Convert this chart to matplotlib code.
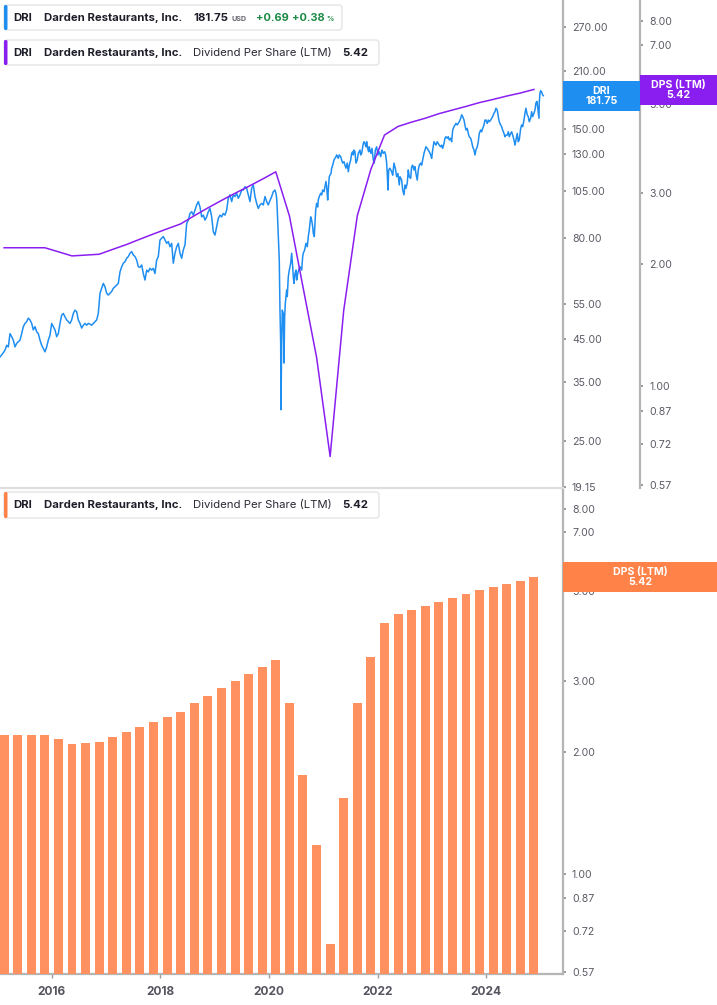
import numpy as np
import matplotlib
matplotlib.use("Agg")
import matplotlib.pyplot as plt
from matplotlib.patches import FancyBboxPatch, Rectangle
from matplotlib.ticker import FixedLocator, NullLocator, FixedFormatter
from matplotlib.transforms import IdentityTransform

plt.rcParams['font.family'] = ['Inter', 'DejaVu Sans']

# ---------------- data ----------------
price_years = [
    2015.050, 2015.100, 2015.142, 2015.173, 2015.203, 2015.234, 2015.265, 2015.295, 2015.326, 2015.357,
    2015.387, 2015.418, 2015.449, 2015.479, 2015.510, 2015.541, 2015.571, 2015.602, 2015.633, 2015.663,
    2015.694, 2015.725, 2015.755, 2015.786, 2015.817, 2015.847, 2015.878, 2015.909, 2015.939, 2015.970,
    2016.001, 2016.031, 2016.062, 2016.093, 2016.123, 2016.154, 2016.185, 2016.215, 2016.246, 2016.277,
    2016.307, 2016.338, 2016.369, 2016.399, 2016.430, 2016.461, 2016.491, 2016.522, 2016.553, 2016.583,
    2016.614, 2016.645, 2016.675, 2016.706, 2016.737, 2016.767, 2016.798, 2016.829, 2016.859, 2016.890,
    2016.921, 2016.951, 2016.982, 2017.013, 2017.043, 2017.074, 2017.105, 2017.135, 2017.166, 2017.197,
    2017.227, 2017.258, 2017.289, 2017.319, 2017.350, 2017.381, 2017.411, 2017.442, 2017.473, 2017.503,
    2017.534, 2017.565, 2017.595, 2017.626,
    2017.657, 2017.687, 2017.718, 2017.749, 2017.779, 2017.810, 2017.841, 2017.871, 2017.902, 2017.933,
    2017.963, 2017.994, 2018.025, 2018.055, 2018.086, 2018.117, 2018.147, 2018.178, 2018.209, 2018.239,
    2018.270, 2018.301, 2018.331, 2018.362, 2018.393, 2018.423, 2018.454, 2018.485, 2018.515, 2018.546,
    2018.577, 2018.607, 2018.638, 2018.669, 2018.699, 2018.730, 2018.761, 2018.791, 2018.822, 2018.853,
    2018.883, 2018.914, 2018.945, 2018.975, 2019.006, 2019.037, 2019.067, 2019.098, 2019.129, 2019.159,
    2019.190, 2019.221, 2019.251, 2019.282, 2019.313, 2019.343, 2019.374, 2019.405, 2019.435, 2019.466,
    2019.497, 2019.527, 2019.558, 2019.589, 2019.619, 2019.650, 2019.681, 2019.711, 2019.742, 2019.773,
    2019.803, 2019.834, 2019.865, 2019.895, 2019.926, 2019.957, 2019.987, 2020.018, 2020.049, 2020.079,
    2020.110,
    2020.128, 2020.141, 2020.152, 2020.171, 2020.189, 2020.202, 2020.215, 2020.220, 2020.233, 2020.244,
    2020.263, 2020.276, 2020.288, 2020.300, 2020.312, 2020.325, 2020.336, 2020.355, 2020.373, 2020.399,
    2020.417, 2020.436, 2020.447, 2020.460, 2020.478, 2020.496, 2020.509, 2020.528, 2020.546, 2020.570,
    2020.601, 2020.620, 2020.631, 2020.656, 2020.680, 2020.704, 2020.723, 2020.741, 2020.754, 2020.767,
    2020.785, 2020.804, 2020.815, 2020.833, 2020.846, 2020.859, 2020.877, 2020.896, 2020.907, 2020.925,
    2020.951, 2020.969, 2020.988, 2021.012, 2021.030, 2021.048, 2021.061, 2021.080, 2021.091, 2021.109,
    2021.122, 2021.140, 2021.153, 2021.172, 2021.196, 2021.214, 2021.232, 2021.245, 2021.275, 2021.293,
    2021.319, 2021.337, 2021.356, 2021.380, 2021.398, 2021.416, 2021.440, 2021.459, 2021.477, 2021.503,
    2021.521, 2021.540, 2021.551, 2021.564, 2021.582, 2021.600, 2021.624, 2021.643, 2021.674, 2021.687,
    2021.705, 2021.724, 2021.735, 2021.748, 2021.766, 2021.784, 2021.797, 2021.816, 2021.834, 2021.845,
    2021.858, 2021.876, 2021.895, 2021.919, 2021.937, 2021.956, 2021.981, 2022.005, 2022.029, 2022.055,
    2022.079, 2022.103, 2022.128, 2022.147, 2022.165, 2022.176, 2022.189, 2022.202, 2022.226, 2022.257,
    2022.276, 2022.300, 2022.324, 2022.349, 2022.373, 2022.397,
    2022.410, 2022.441, 2022.460, 2022.484, 2022.502, 2022.520, 2022.544, 2022.563, 2022.581, 2022.607,
    2022.625, 2022.644, 2022.668, 2022.686, 2022.704, 2022.728, 2022.747, 2022.765, 2022.791, 2022.809,
    2022.828, 2022.852, 2022.870, 2022.888, 2022.912, 2022.931, 2022.949, 2022.975, 2022.993, 2023.012,
    2023.036, 2023.054, 2023.072, 2023.096, 2023.115, 2023.133, 2023.159, 2023.177, 2023.196, 2023.220,
    2023.238, 2023.256, 2023.280, 2023.299, 2023.317, 2023.343, 2023.361, 2023.380, 2023.404, 2023.422,
    2023.440, 2023.464, 2023.483, 2023.501, 2023.527, 2023.545, 2023.564, 2023.588, 2023.606, 2023.624,
    2023.648, 2023.667, 2023.685, 2023.711, 2023.729, 2023.748, 2023.772, 2023.790, 2023.808, 2023.832,
    2023.851, 2023.869, 2023.895, 2023.913, 2023.932, 2023.956, 2023.974, 2023.992, 2024.016, 2024.035,
    2024.053, 2024.079, 2024.097, 2024.116, 2024.140, 2024.158, 2024.176, 2024.200, 2024.219, 2024.237,
    2024.263, 2024.281, 2024.300, 2024.324, 2024.342, 2024.360, 2024.384, 2024.403, 2024.421, 2024.447,
    2024.465, 2024.484, 2024.508, 2024.526, 2024.544, 2024.568, 2024.587, 2024.605, 2024.631, 2024.649,
    2024.668, 2024.692, 2024.710, 2024.728, 2024.752, 2024.771, 2024.789, 2024.815, 2024.833, 2024.852,
    2024.876, 2024.894, 2024.912, 2024.931, 2024.949, 2024.968, 2024.973, 2024.986, 2024.999, 2025.017,
    2025.036, 2025.047,
]

price_values = [
    40.5, 41.3, 42.1, 43.3, 42.9, 46.3, 45.5, 44.6, 42.9, 43.8,
    44.2, 44.6, 46.3, 48.2, 49.1, 49.6, 50.6, 50.1, 49.1, 47.3,
    48.2, 46.8, 46.3, 44.6, 43.3, 42.5, 41.7, 42.9, 44.6, 45.9,
    49.1, 48.2, 47.3, 45.5, 46.3, 49.1, 51.5, 52.0, 51.0, 50.1,
    49.6, 49.1, 50.1, 52.0, 53.0, 52.5, 50.1, 49.1, 47.8, 48.6,
    49.1, 48.6, 49.1, 48.9, 48.6, 49.1, 49.6, 50.1, 52.0, 58.4,
    60.1, 61.8, 60.6, 58.4, 57.8, 58.4, 59.0, 60.1, 60.6, 61.2,
    61.8, 66.0, 68.0, 69.4, 70.0, 71.4, 72.1, 73.5, 74.2, 72.8,
    72.1, 70.7, 68.0, 67.8,
    68.7, 65.4, 63.0, 66.7, 66.0, 67.4, 66.7, 67.4, 65.4, 70.7,
    72.1, 79.3, 80.1, 80.9, 79.3, 77.8, 78.6, 76.3, 77.8, 69.4,
    73.5, 76.3, 77.8, 73.5, 71.4, 74.9, 77.1, 87.2, 88.9, 92.4,
    93.3, 91.5, 94.2, 97.0, 98.9, 95.9, 90.6, 91.5, 88.9, 90.6,
    93.3, 95.1, 90.6, 83.2, 81.6, 85.6, 89.8, 91.5, 90.6, 92.4,
    91.5, 94.2, 100.8, 102.8, 98.9, 102.8, 101.8, 103.7, 100.8, 102.8,
    105.7, 105.7, 107.7, 106.7, 102.8, 98.9, 106.7, 108.8, 101.8, 97.9,
    95.1, 97.0, 97.9, 97.0, 101.8, 98.9, 97.0, 99.5, 101.8, 104.7,
    105.7,
    103.7, 100.8, 94.2, 80.9, 70.7, 53.0, 43.8, 29.9, 43.8, 53.0,
    52.0, 39.1, 51.0, 55.1, 57.3, 59.5, 57.3, 64.2, 66.7, 69.4,
    73.5, 68.0, 64.2, 61.8, 65.4, 66.7, 63.0, 65.4, 66.7, 68.0,
    66.7, 72.1, 73.5, 74.9, 77.8, 76.3, 80.9, 84.0, 87.2, 90.6,
    88.9, 85.6, 82.4, 80.9, 87.2, 94.2, 97.9, 95.9, 99.8, 101.8,
    103.7, 102.8, 105.7, 104.7, 107.7, 111.0, 107.7, 99.8, 105.7, 114.1,
    115.1, 116.2, 119.8, 121.9, 125.6, 126.8, 128.0, 129.3, 126.8, 129.3,
    128.0, 125.6, 123.4, 124.4, 121.9, 119.8, 123.4, 117.4, 121.9, 125.6,
    130.5, 131.7, 129.3, 133.0, 131.7, 123.4, 125.6, 130.5, 133.0, 129.3,
    130.5, 135.5, 138.1, 139.5, 138.1, 135.5, 139.5, 134.3, 131.7, 135.5,
    133.0, 130.5, 134.3, 125.6, 123.4, 133.0, 135.5, 129.3, 131.7, 128.0,
    133.0, 130.5, 131.7, 129.3, 123.4, 116.2, 105.7, 118.6, 119.8, 117.4,
    115.1, 123.4, 119.8, 114.1, 116.2, 108.8,
    114.1, 111.9, 105.7, 102.8, 108.8, 106.7, 109.9, 118.6, 114.1, 113.0,
    120.9, 121.9, 118.6, 120.9, 116.2, 111.9, 118.6, 121.9, 123.4, 121.9,
    125.6, 130.5, 133.0, 135.5, 134.3, 133.0, 131.7, 129.3, 126.8, 133.0,
    139.5, 138.1, 136.8, 139.5, 138.1, 136.8, 135.5, 136.8, 134.3, 138.1,
    142.3, 143.6, 142.3, 143.6, 140.9, 142.3, 139.5, 149.2, 152.1, 153.6,
    155.0, 153.6, 155.0, 156.5, 159.6, 162.8, 161.2, 158.0, 153.6, 149.2,
    150.6, 146.3, 143.6, 142.3, 139.5, 135.5, 133.0, 129.3, 133.0, 135.5,
    139.5, 146.3, 149.2, 147.7, 150.6, 153.6, 158.0, 158.0, 155.0, 158.0,
    156.5, 158.0, 159.6, 161.2, 164.3, 165.8, 169.1, 167.4, 161.2, 156.5,
    153.6, 152.1, 149.2, 146.3, 143.6, 144.9, 144.9, 147.7, 143.6, 146.3,
    147.7, 144.9, 140.9, 136.8, 140.9, 146.3, 139.5, 140.9, 150.6, 153.6,
    152.1, 158.0, 164.3, 169.1, 162.8, 161.2, 156.5, 159.6, 165.8, 161.2,
    164.3, 167.4, 174.3, 175.9, 167.4, 159.6, 174.3, 184.3, 187.0, 185.5,
    182.6, 181.75,
]

dps_quarters = [
    2015.125, 2015.375, 2015.625, 2015.875, 2016.125, 2016.375, 2016.625, 2016.875,
    2017.125, 2017.375, 2017.625, 2017.875, 2018.125, 2018.375, 2018.625, 2018.875,
    2019.125, 2019.375, 2019.625, 2019.875, 2020.125, 2020.375, 2020.625, 2020.875,
    2021.125, 2021.375, 2021.625, 2021.875, 2022.125, 2022.375, 2022.625, 2022.875,
    2023.125, 2023.375, 2023.625, 2023.875, 2024.125, 2024.375, 2024.625, 2024.875,
]
dps_values = [
    2.20, 2.20, 2.20, 2.20, 2.15, 2.10, 2.11, 2.12,
    2.18, 2.24, 2.31, 2.38, 2.45, 2.52, 2.64, 2.76,
    2.88, 3.00, 3.12, 3.25, 3.39, 2.64, 1.76, 1.18,
    0.67, 1.54, 2.64, 3.44, 4.18, 4.39, 4.50, 4.60,
    4.72, 4.82, 4.92, 5.03, 5.12, 5.22, 5.31, 5.42,
]

price_ticks = [270, 210, 150, 130, 105, 80, 55, 45, 35, 25, 19.15]
dps_ticks = [8, 7, 5, 3, 2, 1, 0.87, 0.72, 0.57]
year_ticks = [2016, 2018, 2020, 2022, 2024]

ticker = "DRI"
company = "Darden Restaurants, Inc."
metric = "Dividend Per Share (LTM)"
last_price = 181.75
change_abs = 0.69
change_pct = 0.38
last_dps = 5.42

# ---------------- style ----------------
BLUE = '#1f8ef1'
PURPLE = '#8a1ef0'
ORANGE = '#ff9060'
ORANGE_BOX = '#ff8248'
SPINE = '#b5b5b5'
TICK_TXT = '#5b5b66'
DARK = '#1e1e2a'
GREEN = '#1c8a45'

W, H = 717, 1005
fig = plt.figure(figsize=(W / 100, H / 100), dpi=100)
IDT = IdentityTransform()
PX = 72 / 100  # points per pixel

XMIN, XMAX = 2015.05, 2025.41


def axes_px(x0, y0, x1, y1):
    return fig.add_axes([x0 / W, 1 - y1 / H, (x1 - x0) / W, (y1 - y0) / H])


def style_right_axis(ax, ticks, labels):
    ax.yaxis.set_label_position('right')
    ax.yaxis.set_major_locator(FixedLocator(ticks))
    ax.yaxis.set_minor_locator(NullLocator())
    ax.yaxis.set_major_formatter(FixedFormatter(labels))
    ax.tick_params(axis='y', which='both', left=False, right=True, labelleft=False,
                   labelright=True, direction='out', length=3 * PX, width=1.2,
                   color='#8a8a8a', labelsize=7.6, labelcolor=TICK_TXT, pad=6 * PX)


# ---------- top panel ----------
ax1 = axes_px(0, 0, 563, 488)
ax1.plot(price_years, price_values, color=BLUE, lw=1.1, zorder=3)
ax1.set_yscale('log')
ax1.set_ylim(19.07, 315)
ax1.set_xlim(XMIN, XMAX)

ax1b = ax1.twinx()
ax1b.plot(dps_quarters, dps_values, color=PURPLE, lw=1.1, zorder=4)
ax1b.set_yscale('log')
ax1b.set_ylim(0.560, 9.02)
ax1b.set_xlim(XMIN, XMAX)

for s in ['top', 'left']:
    ax1.spines[s].set_visible(False)
ax1.spines['right'].set_color(SPINE)
ax1.spines['right'].set_linewidth(1.6)
ax1.spines['bottom'].set_color('#dedede')
ax1.spines['bottom'].set_linewidth(1.6)
ax1.set_xticks([])
style_right_axis(ax1, price_ticks, [f"{t:.2f}" for t in price_ticks])

for s in ['top', 'left', 'bottom']:
    ax1b.spines[s].set_visible(False)
ax1b.spines['right'].set_position(('outward', 77 * PX))
ax1b.spines['right'].set_color(SPINE)
ax1b.spines['right'].set_linewidth(1.6)
style_right_axis(ax1b, dps_ticks, [f"{t:.2f}" for t in dps_ticks])

# ---------- bottom panel ----------
ax2 = axes_px(0, 490, 563, 974)
base = 0.3
ax2.bar(dps_quarters, np.array(dps_values) - base, bottom=base, width=0.165,
        color=ORANGE, edgecolor='none', zorder=3)
ax2.set_yscale('log')
ax2.set_ylim(0.564, 8.92)
ax2.set_xlim(XMIN, XMAX)
for s in ['top', 'left']:
    ax2.spines[s].set_visible(False)
for s in ['right', 'bottom']:
    ax2.spines[s].set_color(SPINE)
    ax2.spines[s].set_linewidth(1.6)
style_right_axis(ax2, dps_ticks, [f"{t:.2f}" for t in dps_ticks])
ax2.set_xticks(year_ticks)
ax2.set_xticklabels([str(y) for y in year_ticks])
ax2.tick_params(axis='x', direction='out', length=4 * PX, width=1, color='#9a9a9a',
                labelsize=8.6, labelcolor='#555560', pad=8 * PX)
for lab in ax2.get_xticklabels():
    lab.set_fontweight('bold')

# ---------- value tags on the right ----------
def tag(x0, y0, x1, y1, color, text):
    fig.add_artist(Rectangle((x0, H - y1), x1 - x0, y1 - y0, transform=IDT,
                             facecolor=color, edgecolor='none', zorder=20))
    fig.text((x0 + x1) / 2, H - (y0 + y1) / 2, text, transform=IDT, ha='center',
             va='center', color='white', fontsize=7.6, fontweight='bold',
             linespacing=1.05, zorder=21)


tag(563, 81, 640, 111, BLUE, f"{ticker}\n{last_price:.2f}")
tag(640, 75, 717, 105, PURPLE, f"DPS (LTM)\n{last_dps:.2f}")
tag(563, 562, 717, 592, ORANGE_BOX, f"DPS (LTM)\n{last_dps:.2f}")

# ---------- legend boxes ----------
def legend_box(x0, y0, x1, y1, stripe):
    fig.add_artist(FancyBboxPatch((x0, H - y1), x1 - x0, y1 - y0,
                                  boxstyle='round,pad=0,rounding_size=3', transform=IDT,
                                  facecolor='white', edgecolor='#e4e4e4', lw=1, zorder=20))
    fig.add_artist(FancyBboxPatch((x0, H - y1), 3.5, y1 - y0,
                                  boxstyle='round,pad=0,rounding_size=1.5', transform=IDT,
                                  facecolor=stripe, edgecolor='none', zorder=21))


def ptext(x, y, s, size=8.2, weight='normal', color=DARK):
    fig.text(x, H - y, s, transform=IDT, ha='left', va='center', fontsize=size,
             fontweight=weight, color=color, zorder=22)


legend_box(4, 5, 342, 30, BLUE)
ptext(13, 17.5, ticker, weight='bold')
ptext(44, 17.5, company, weight='bold')
ptext(193, 17.5, f"{last_price:.2f}", weight='bold')
ptext(232, 18.5, "USD", size=5.2, weight='bold', color='#666670')
ptext(256, 17.5, f"+{change_abs:.2f}", size=7.9, weight='bold', color=GREEN)
ptext(292, 17.5, f"+{change_pct:.2f}", size=7.9, weight='bold', color=GREEN)
ptext(326, 18.5, "%", size=5.2, weight='bold', color=GREEN)

legend_box(4, 40, 379, 65, PURPLE)
ptext(13, 52.5, ticker, weight='bold')
ptext(44, 52.5, company, weight='bold')
ptext(193, 52.5, metric, color='#2a2a36')
ptext(342, 52.5, f"{last_dps:.2f}", weight='bold')

legend_box(4, 492, 379, 518, ORANGE_BOX)
ptext(13, 505, ticker, weight='bold')
ptext(44, 505, company, weight='bold')
ptext(193, 505, metric, color='#2a2a36')
ptext(342, 505, f"{last_dps:.2f}", weight='bold')

fig.savefig("out.png", dpi=100)
